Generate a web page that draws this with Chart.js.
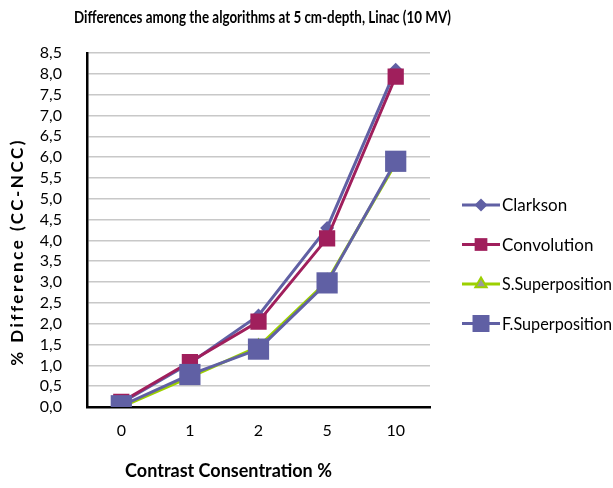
<!DOCTYPE html>
<html>
<head>
<meta charset="utf-8">
<script src="https://cdn.jsdelivr.net/npm/chart.js@4/dist/chart.umd.min.js"></script>
<style>
  html, body { margin: 0; padding: 0; background: #fff; }
  #wrap { width: 613px; height: 488px; }
</style>
</head>
<body>
<div id="wrap"><canvas id="chart"></canvas></div>
<script>
const FONT = "Lato, 'Liberation Sans', sans-serif"

const chartTitle = 'Differences among the algorithms at 5 cm-depth, Linac (10 MV)'
const xTitle = 'Contrast Consentration %'
const yTitle = '% Difference (CC-NCC)'

const categories = ['0', '1', '2', '5', '10']
const clarkson = [0.1, 1.05, 2.2, 4.3, 8.1]
const convolution = [0.12, 1.08, 2.05, 4.05, 7.93]
const sSuperposition = [0.0, 0.72, 1.45, 3.02, 5.85]
const fSuperposition = [0.03, 0.78, 1.39, 2.98, 5.9]

const series = [
  { label: 'Clarkson', data: clarkson, color: '#6060A4', point: 'rectRot', radius: 7, fill: '#6060A4', order: 4 },
  { label: 'Convolution', data: convolution, color: '#A01F5C', point: 'rect', radius: 11.5, fill: '#A01F5C', order: 3 },
  { label: 'S.Superposition', data: sSuperposition, color: '#9CD000', point: 'triangle', radius: 7, fill: '#9A9A9A', order: 2 },
  { label: 'F.Superposition', data: fSuperposition, color: '#6060A4', point: 'rect', radius: 15, fill: '#6060A4', order: 1 }
]

const datasets = series.map(s => ({
  label: s.label,
  data: s.data,
  borderColor: s.color,
  borderWidth: 3,
  pointStyle: s.point,
  pointRadius: s.radius,
  pointHoverRadius: s.radius,
  pointBackgroundColor: s.fill,
  pointBorderColor: s.point === 'triangle' ? s.color : s.fill,
  pointBorderWidth: s.point === 'triangle' ? 2 : 0,
  tension: 0,
  order: s.order
}))

const drawMarker = (ctx, style, x, y, r, fill, stroke, lw) => {
  ctx.beginPath()
  if (style === 'rect') {
    const h = r * Math.SQRT1_2
    ctx.rect(x - h, y - h, 2 * h, 2 * h)
  } else if (style === 'rectRot') {
    ctx.moveTo(x, y - r)
    ctx.lineTo(x + r, y)
    ctx.lineTo(x, y + r)
    ctx.lineTo(x - r, y)
    ctx.closePath()
  } else {
    ctx.moveTo(x, y - r)
    ctx.lineTo(x + r * 0.87, y + r * 0.5)
    ctx.lineTo(x - r * 0.87, y + r * 0.5)
    ctx.closePath()
  }
  ctx.fillStyle = fill
  ctx.fill()
  if (lw) {
    ctx.lineWidth = lw
    ctx.strokeStyle = stroke
    ctx.stroke()
  }
}

// titles and legend drawn by hand
const decorations = {
  id: 'decorations',
  afterDraw (chart) {
    const ctx = chart.ctx
    const area = chart.chartArea
    ctx.save()
    ctx.fillStyle = '#000'
    ctx.textBaseline = 'middle'

    ctx.font = 'bold 17px ' + FONT
    ctx.textAlign = 'center'
    ctx.fillText(chartTitle, (area.left + area.right) / 2 + 4, 18, 377)

    ctx.font = 'bold 18px ' + FONT
    ctx.fillText(xTitle, (area.left + area.right) / 2 - 30, area.bottom + 64, 237)

    ctx.save()
    ctx.translate(18, (area.top + area.bottom) / 2 + 22)
    ctx.rotate(-Math.PI / 2)
    ctx.letterSpacing = '2.5px'
    ctx.font = 'bold 17px ' + FONT
    ctx.fillText(yTitle, 0, 0, 250)
    ctx.restore()

    // legend
    ctx.font = '17px ' + FONT
    ctx.textAlign = 'left'
    series.forEach((s, i) => {
      const y = 205 + i * 39.5
      ctx.beginPath()
      ctx.moveTo(462, y)
      ctx.lineTo(500, y)
      ctx.lineWidth = 3
      ctx.strokeStyle = s.color
      ctx.stroke()
      const r = s.point === 'rect' ? (i === 3 ? 12 : 9) : 6.5
      drawMarker(ctx, s.point, 481, y, r, s.fill, s.color, s.point === 'triangle' ? 2 : 0)
      ctx.fillStyle = '#000'
      ctx.fillText(s.label, 502, y + 1, 110)
    })
    ctx.restore()
  }
}

new Chart(document.getElementById('chart'), {
  type: 'line',
  data: { labels: categories, datasets: datasets },
  options: {
    responsive: true,
    maintainAspectRatio: false,
    animation: false,
    layout: { padding: { left: 0, right: 183, top: 53, bottom: 0 } },
    plugins: {
      legend: { display: false },
      title: { display: false },
      tooltip: { enabled: false }
    },
    scales: {
      x: {
        offset: true,
        afterFit: scale => { scale.height = 81 },
        grid: { display: false, drawTicks: false },
        border: { color: '#000', width: 2.5 },
        ticks: { color: '#000', padding: 14, font: { family: FONT, size: 16 } }
      },
      y: {
        min: 0,
        max: 8.5,
        afterFit: scale => { scale.width = 87 },
        grid: { color: '#C8C8C8', lineWidth: 1.5, drawTicks: false },
        border: { color: '#000', width: 2.5 },
        ticks: {
          stepSize: 0.5,
          autoSkip: false,
          color: '#000',
          padding: 25,
          font: { family: FONT, size: 16 },
          callback: v => v.toFixed(1).replace('.', ',')
        }
      }
    }
  },
  plugins: [decorations]
})
</script>
</body>
</html>
